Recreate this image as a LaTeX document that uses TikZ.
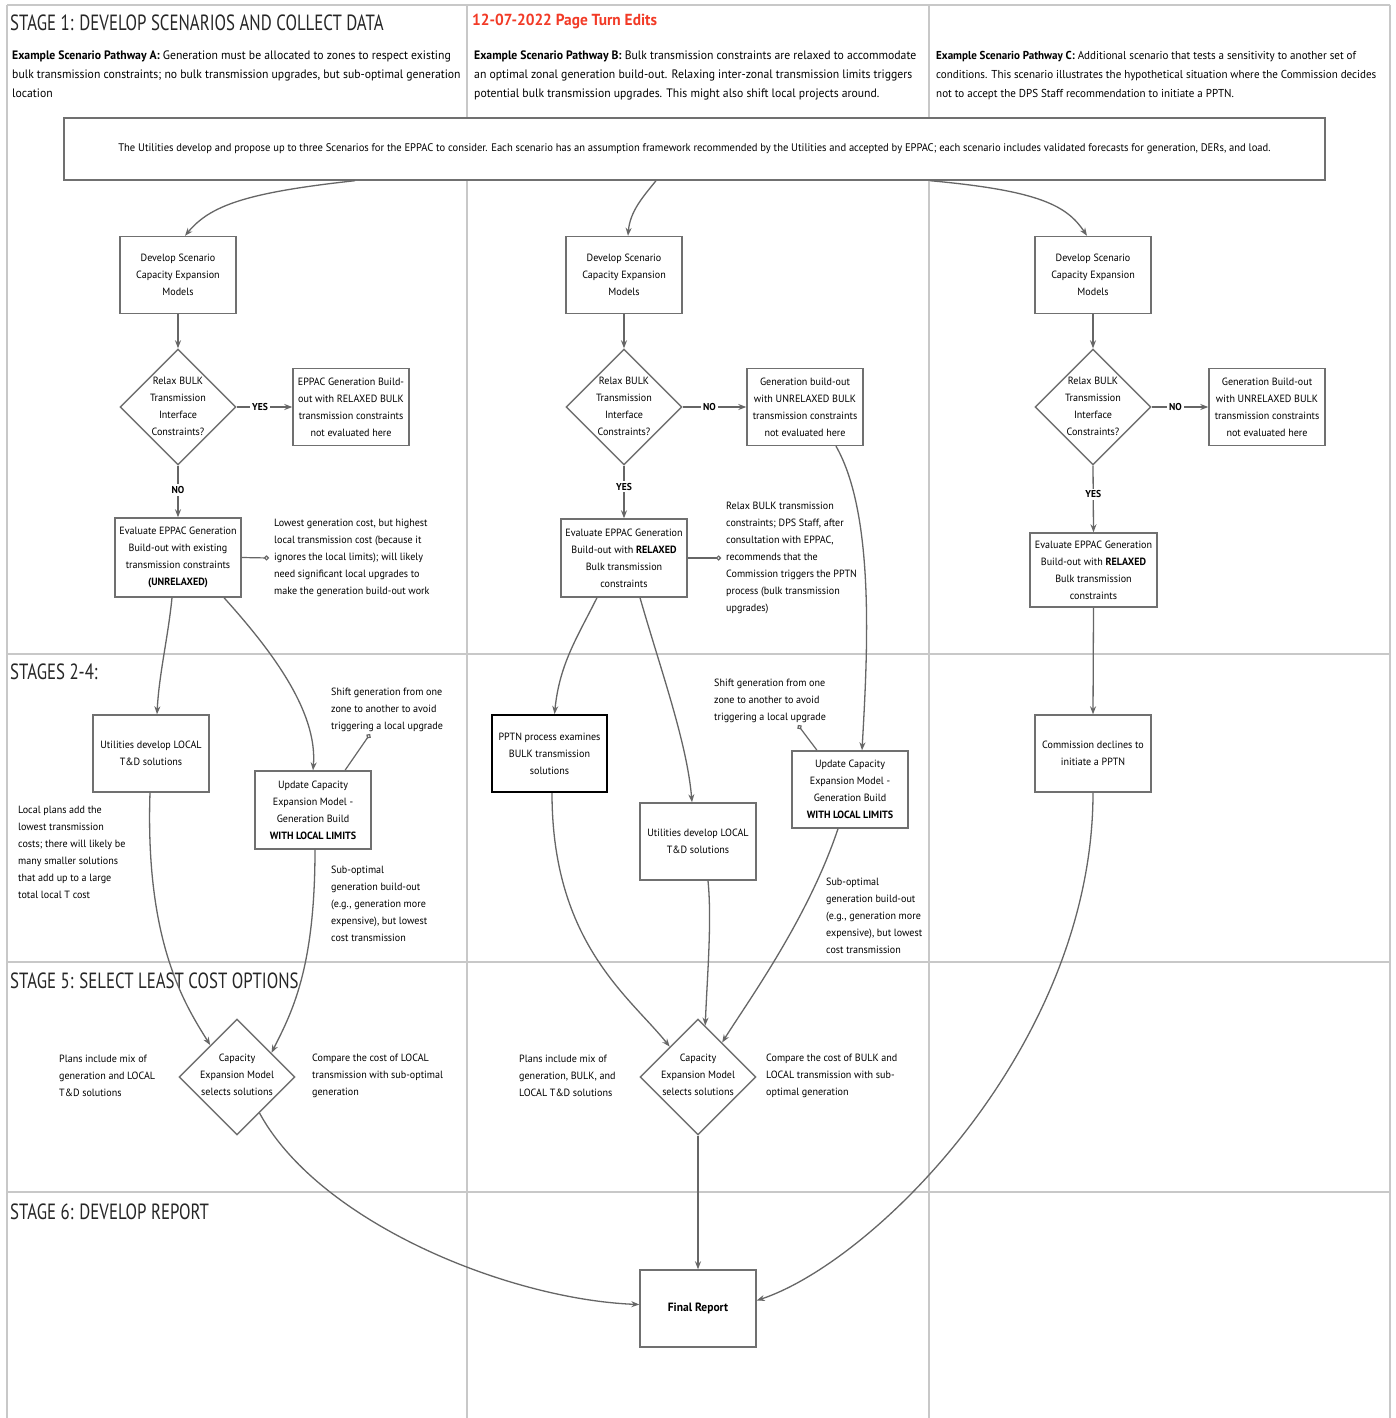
\documentclass[tikz,border=0pt]{standalone}
\usepackage{fontspec}
\setmainfont{PT Sans}[FakeStretch=0.96]
\newfontfamily\headfont{PT Sans}[FakeStretch=0.765]
\usetikzlibrary{shapes.geometric,arrows.meta,calc}
\definecolor{framec}{HTML}{C8C8C8}
\definecolor{edgec}{HTML}{666666}
\definecolor{boxc}{HTML}{707070}
\definecolor{redt}{HTML}{F23A26}
\newcommand{\nf}{\fontsize{10.5}{17}\selectfont}
\begin{document}
\begin{tikzpicture}[x=1pt,y=-1pt,
  flowbox/.style={draw=boxc,line width=1.4pt,fill=white,align=center,font=\nf,inner sep=2pt,minimum width=116pt,minimum height=77pt},
  dec/.style={diamond,draw=boxc,line width=1.4pt,fill=white,minimum width=116pt,minimum height=116pt,inner sep=0pt},
  dectext/.style={align=center,font=\nf,inner sep=0pt},
  note/.style={align=left,font=\nf,inner sep=0pt},
  arr/.style={draw=edgec,line width=1.3pt,-{Stealth[length=8pt,width=6pt]}},
  dotline/.style={draw=edgec,line width=1.2pt,-{Circle[open,length=5pt,width=5pt,fill=white]}},
  lab/.style={fill=white,font=\bfseries\fontsize{10}{12}\selectfont,inner sep=2pt},
  stagehead/.style={anchor=west,font=\headfont\fontsize{22}{24}\selectfont,text=black!85,inner sep=0pt},
  para/.style={anchor=north west,align=left,font=\fontsize{12.2}{19}\selectfont,inner sep=0pt},
]
\useasboundingbox (0,0) rectangle (1396,1418);
\fill[white] (0,0) rectangle (1396,1418);
% frame
\begin{scope}[draw=framec,line width=2pt]
\draw (7,5) -- (1390,5);
\draw (7,5) -- (7,1418);
\draw (1390,5) -- (1390,1418);
\draw (467,5) -- (467,1418);
\draw (929,5) -- (929,1418);
\draw (7,654) -- (1390,654);
\draw (7,962) -- (1390,962);
\draw (7,1192) -- (1390,1192);
\end{scope}
% headings
\node[stagehead] (h1) at (10,23) {STAGE 1: DEVELOP SCENARIOS AND COLLECT DATA};
\node[stagehead] (h2) at (10,672) {STAGES 2-4:};
\node[stagehead] (h3) at (10,981) {STAGE 5: SELECT LEAST COST OPTIONS};
\node[stagehead] (h4) at (10,1212) {STAGE 6: DEVELOP REPORT};
\node[anchor=west,inner sep=0pt,text=redt,font=\bfseries\fontsize{16}{18}\selectfont] (date) at (472,21) {12-07-2022 Page Turn Edits};
\node[para] (pa) at (12,51) {\textbf{Example Scenario Pathway A:} Generation must be allocated to zones to respect existing\\bulk transmission constraints; no bulk transmission upgrades, but sub-optimal generation\\location};
\node[para] (pb) at (474,51) {\textbf{Example Scenario Pathway B:} Bulk transmission constraints are relaxed to accommodate\\an optimal zonal generation build-out. Relaxing inter-zonal transmission limits triggers\\potential bulk transmission upgrades. This might also shift local projects around.};
\node[para,font=\fontsize{11.5}{19}\selectfont] (pc) at (936,51) {\textbf{Example Scenario Pathway C:} Additional scenario that tests a sensitivity to another set of\\conditions. This scenario illustrates the hypothetical situation where the Commission decides\\not to accept the DPS Staff recommendation to initiate a PPTN.};
% top box
\node[draw=boxc,line width=1.4pt,fill=white,minimum width=1261pt,minimum height=62pt,font=\fontsize{11}{12}\selectfont] (top) at (694.5,149) {The Utilities develop and propose up to three Scenarios for the EPPAC to consider. Each scenario has an assumption framework recommended by the Utilities and accepted by EPPAC; each scenario includes validated forecasts for generation, DERs, and load.};
% column A
\node[flowbox] (devA) at (178,275) {Develop Scenario\\Capacity Expansion\\Models};
\node[dec] (decA) at (178,407) {};
\node[dectext] (decAt) at (178,406) {Relax BULK\\Transmission\\Interface\\Constraints?};
\node[flowbox] (relA) at (351,407) {EPPAC Generation Build-\\out with RELAXED BULK\\transmission constraints\\not evaluated here};
\node[flowbox,minimum width=126pt,minimum height=79pt] (evalA) at (178,557.5) {Evaluate EPPAC Generation\\Build-out with existing\\transmission constraints\\\textbf{(UNRELAXED)}};
\node[note,anchor=west] (noteA) at (274,558) {Lowest generation cost, but highest\\local transmission cost (because it\\ignores the local limits); will likely\\need significant local upgrades to\\make the generation build-out work};
\node[flowbox] (locA) at (151,753.5) {Utilities develop LOCAL\\T\&D solutions};
\node[flowbox,minimum height=78pt] (updA) at (313,810) {Update Capacity\\Expansion Model -\\Generation Build\\\textbf{WITH LOCAL LIMITS}};
\node[note,anchor=north west] (shiftA) at (331,688) {Shift generation from one\\zone to another to avoid\\triggering a local upgrade};
\node[note,anchor=north west] (localA) at (18,806) {Local plans add the\\lowest transmission\\costs; there will likely be\\many smaller solutions\\that add up to a large\\total local T cost};
\node[note,anchor=north west] (subA) at (331,866) {Sub-optimal\\generation build-out\\(e.g., generation more\\expensive), but lowest\\cost transmission};
\node[dec] (selA) at (237,1077) {};
\node[dectext] (selAt) at (237,1075) {Capacity\\Expansion Model\\selects solutions};
\node[note,anchor=west] (plA) at (59,1076) {Plans include mix of\\generation and LOCAL\\T\&D solutions};
\node[note,anchor=west] (cmpA) at (312,1076) {Compare the cost of LOCAL\\transmission with sub-optimal\\generation};
% column B
\node[flowbox] (devB) at (624,275) {Develop Scenario\\Capacity Expansion\\Models};
\node[dec] (decB) at (624,407) {};
\node[dectext] (decBt) at (624,406) {Relax BULK\\Transmission\\Interface\\Constraints?};
\node[flowbox] (unrB) at (805,407) {Generation build-out\\with UNRELAXED BULK\\transmission constraints\\not evaluated here};
\node[flowbox,minimum width=126pt,minimum height=78pt] (evalB) at (624,558) {Evaluate EPPAC Generation\\Build-out with \textbf{RELAXED}\\Bulk transmission\\constraints};
\node[note,anchor=west] (noteB) at (726,558) {Relax BULK transmission\\constraints; DPS Staff, after\\consultation with EPPAC,\\recommends that the\\Commission triggers the PPTN\\process (bulk transmission\\upgrades)};
\node[flowbox,draw=black,line width=2pt,minimum width=115pt] (pptn) at (549.5,753.5) {PPTN process examines\\BULK transmission\\solutions};
\node[flowbox] (locB) at (698,841.5) {Utilities develop LOCAL\\T\&D solutions};
\node[flowbox] (updB) at (850,789.5) {Update Capacity\\Expansion Model -\\Generation Build\\\textbf{WITH LOCAL LIMITS}};
\node[note,anchor=north west] (shiftB) at (714,679) {Shift generation from one\\zone to another to avoid\\triggering a local upgrade};
\node[note,anchor=north west] (subB) at (826,878) {Sub-optimal\\generation build-out\\(e.g., generation more\\expensive), but lowest\\cost transmission};
\node[dec] (selB) at (698,1077) {};
\node[dectext] (selBt) at (698,1075) {Capacity\\Expansion Model\\selects solutions};
\node[note,anchor=west] (plB) at (519,1076) {Plans include mix of\\generation, BULK, and\\LOCAL T\&D solutions};
\node[note,anchor=west] (cmpB) at (766,1076) {Compare the cost of BULK and\\LOCAL transmission with sub-\\optimal generation};
\node[flowbox,font=\bfseries\fontsize{12}{14}\selectfont] (final) at (698,1308.5) {Final Report};
% column C
\node[flowbox] (devC) at (1093,275) {Develop Scenario\\Capacity Expansion\\Models};
\node[dec] (decC) at (1093,407) {};
\node[dectext] (decCt) at (1093,406) {Relax BULK\\Transmission\\Interface\\Constraints?};
\node[flowbox] (unrC) at (1267,407) {Generation Build-out\\with UNRELAXED BULK\\transmission constraints\\not evaluated here};
\node[flowbox,minimum width=127pt,minimum height=74pt] (evalC) at (1093.5,570) {Evaluate EPPAC Generation\\Build-out with \textbf{RELAXED}\\Bulk transmission\\constraints};
\node[flowbox] (comm) at (1093,753.5) {Commission declines to\\initiate a PPTN};
% edges: top box
\draw[arr] ([xshift=-339.5pt]top.south) .. controls +(-110,12) and +(25,-30) .. ([xshift=7pt]devA.north);
\draw[arr] ([xshift=-38.5pt]top.south) .. controls +(-12,15) and +(2,-25) .. ([xshift=4pt]devB.north);
\draw[arr] ([xshift=235.5pt]top.south) .. controls +(110,10) and +(-20,-30) .. ([xshift=-6pt]devC.north);
% column A edges
\draw[arr] (devA) -- (decA);
\draw[arr] (decA.east) -- node[lab,pos=0.42] {YES} (relA.west);
\draw[arr] (decA.south) -- node[lab,pos=0.47] {NO} (evalA.north);
\draw[dotline] (evalA.east) -- ([xshift=-5pt]noteA.west);
\draw[arr] ([xshift=-6pt]evalA.south) .. controls +(-4,40) and +(2,-40) .. ([xshift=6pt]locA.north);
\draw[arr] ([xshift=46pt]evalA.south) .. controls +(45,50) and +(5,-60) .. (updA.north);
\draw[dotline] ([xshift=32pt]updA.north) -- ([xshift=39pt,yshift=-2pt]shiftA.south west);
\draw[arr] ([xshift=-1pt]locA.south) .. controls +(-5,150) and +(-25,-40) .. (selA.130);
\draw[arr] ([xshift=2pt]updA.south) .. controls +(0,120) and +(20,-40) .. (selA.35);
\draw[arr] (selA.-58) .. controls +(60,110) and +(-130,-5) .. ([yshift=4pt]final.west);
% column B edges
\draw[arr] (devB) -- (decB);
\draw[arr] (decB.east) -- node[lab,pos=0.42] {NO} (unrB.west);
\draw[arr] (decB.south) -- node[lab,pos=0.4] {YES} (evalB.north);
\draw[dotline] (evalB.east) -- ([xshift=-5pt]noteB.west);
\draw[arr] ([xshift=-27pt]evalB.south) .. controls +(-20,40) and +(5,-50) .. ([xshift=5pt]pptn.north);
\draw[arr] ([xshift=16pt]evalB.south) .. controls +(20,70) and +(-5,-60) .. ([xshift=-6pt]locB.north);
\draw[arr] ([xshift=31pt]unrB.south) .. controls +(40,70) and +(5,-90) .. ([xshift=12pt]updB.north);
\draw[dotline] ([xshift=-33pt]updB.north) -- ([xshift=84pt,yshift=-2pt]shiftB.south west);
\draw[arr] ([xshift=2.5pt]pptn.south) .. controls +(0,150) and +(-40,-50) .. (selB.133);
\draw[arr] ([xshift=10pt]locB.south) .. controls +(4,40) and +(2,-50) .. (selB.82);
\draw[arr] ([xshift=-12pt]updB.south) .. controls +(-30,90) and +(25,-40) .. (selB.55);
\draw[arr] (selB.south) -- (final.north);
% column C edges
\draw[arr] (devC) -- (decC);
\draw[arr] (decC.east) -- node[lab,pos=0.42] {NO} (unrC.west);
\draw[arr] (decC.south) -- node[lab,pos=0.43] {YES} (evalC.north);
\draw[arr] (evalC.south) -- (comm.north);
\draw[arr] (comm.south) .. controls +(0,250) and +(120,-40) .. ([yshift=8pt]final.east);
\end{tikzpicture}
\end{document}
